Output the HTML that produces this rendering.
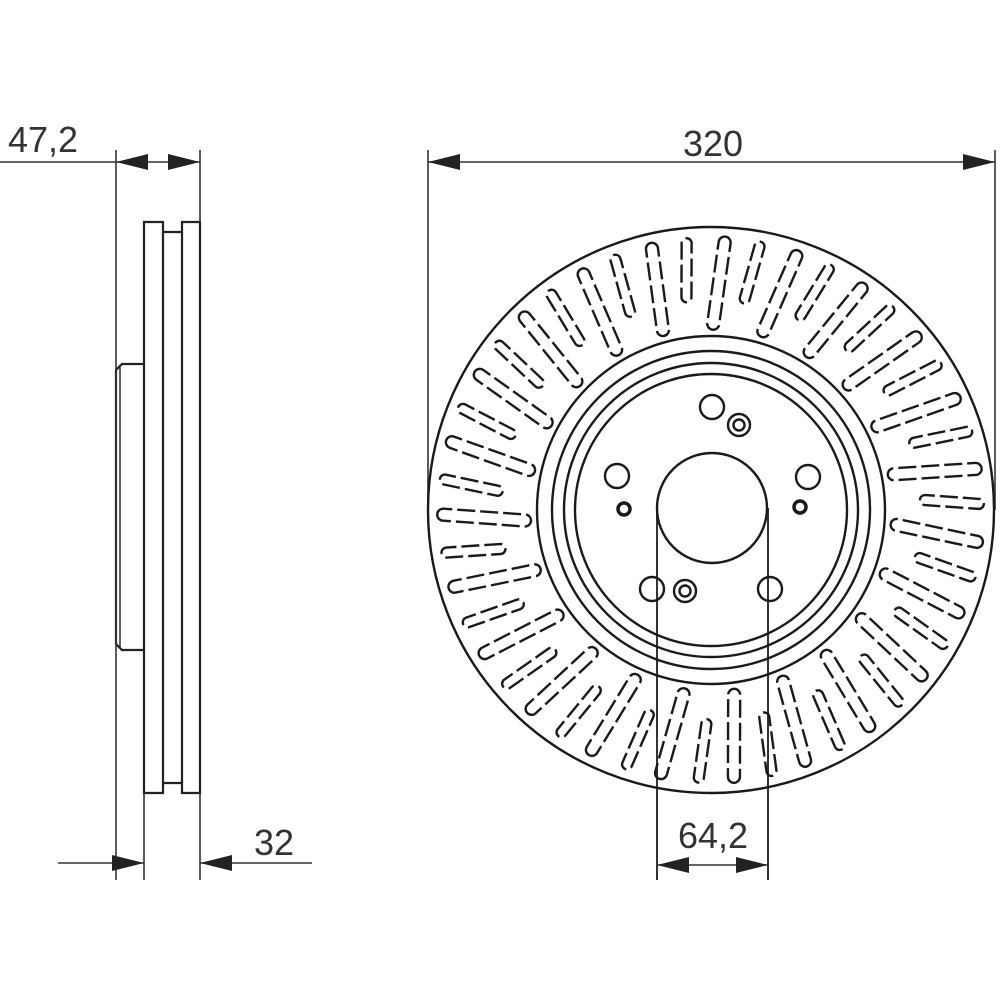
<!DOCTYPE html>
<html><head><meta charset="utf-8"><style>
html,body{margin:0;padding:0;background:#fff;}
svg{display:block;}
text{font-family:"Liberation Sans",sans-serif;fill:#333;}
</style></head><body>
<svg id="s" width="1000" height="1000" viewBox="0 0 1000 1000" xmlns="http://www.w3.org/2000/svg">
<g fill="none" stroke="#222" stroke-width="2.2">
  <!-- side view -->
  <path d="M144,793 V222 H163 V232 H182 V222 H200 V793 H182 V783 H163 V793 Z"/>
  <line x1="163" y1="232" x2="163" y2="783"/>
  <line x1="182" y1="232" x2="182" y2="783"/>
  <path d="M144,364 H122 L116,370 V644 L122,650 H144"/>
  <line x1="120" y1="367" x2="120" y2="647" stroke-width="1.4"/>
</g>
<g stroke="#333" stroke-width="1.6" fill="none">
  <line x1="116" y1="150" x2="116" y2="880"/>
  <line x1="200" y1="150" x2="200" y2="222"/>
  <line x1="0" y1="162" x2="200" y2="162"/>
  <line x1="144" y1="793" x2="144" y2="880"/>
  <line x1="200" y1="793" x2="200" y2="880"/>
  <line x1="58" y1="863" x2="144" y2="863"/>
  <line x1="200" y1="863" x2="312" y2="863"/>
  <!-- 320 -->
  <line x1="428" y1="150" x2="428" y2="510"/>
  <line x1="995" y1="150" x2="995" y2="510"/>
  <line x1="428" y1="162" x2="995" y2="162"/>
  <!-- 64,2 -->
  <line x1="657" y1="508" x2="657" y2="880" stroke-width="2"/>
  <line x1="768" y1="508" x2="768" y2="880" stroke-width="2"/>
  <line x1="657" y1="865" x2="768" y2="865"/>
</g>
<g fill="#222">
  <polygon points="116,162 148,154 148,170"/>
  <polygon points="200,162 168,154 168,170"/>
  <polygon points="144,863 112,855 112,871"/>
  <polygon points="200,863 232,855 232,871"/>
  <polygon points="428,162 460,154 460,170"/>
  <polygon points="995,162 963,154 963,170"/>
  <polygon points="657,865 689,857 689,873"/>
  <polygon points="768,865 736,857 736,873"/>
</g>
<text x="8" y="152" font-size="36">47,2</text>
<text x="254" y="855" font-size="36">32</text>
<text x="713" y="156" font-size="36" text-anchor="middle">320</text>
<text x="713" y="848" font-size="36" text-anchor="middle">64,2</text>
<!-- front view -->
<g fill="none" stroke="#1a1a1a" stroke-width="2.4">
  <circle cx="711" cy="510" r="283"/>
  <circle cx="711" cy="510" r="174"/>
  <circle cx="711" cy="510" r="159"/>
  <circle cx="711" cy="510" r="147"/>
  <circle cx="711" cy="510" r="136"/>
  <circle cx="712" cy="508" r="55"/>
  <circle cx="712" cy="407" r="12"/>
  <circle cx="617" cy="476" r="12"/>
  <circle cx="808" cy="477" r="12"/>
  <circle cx="652" cy="589" r="12"/>
  <circle cx="770" cy="589" r="12"/>
  <circle cx="739" cy="425" r="11"/><circle cx="739" cy="425" r="5.5"/>
  <circle cx="685" cy="591" r="11"/><circle cx="685" cy="591" r="5.5"/>
  <circle cx="624" cy="509" r="6" stroke-width="3.5"/>
  <circle cx="800" cy="507" r="6" stroke-width="3.5"/>
</g>
<g id="slots" fill="none" stroke="#1a1a1a" stroke-width="2.4" stroke-dasharray="18 5"></g>
</svg>
<script>
var g=document.getElementById('slots'),N=46,h='';
for(var i=0;i<N;i++){
  var a=i*360/N+2;
  if(i%2==0){
    h+='<rect x="-6" y="-274" width="12" height="94" rx="6" transform="translate(711,510) rotate('+a+') rotate(6,0,-227)"/>';
  }else{
    h+='<rect x="-5" y="-273" width="10" height="64" rx="5" transform="translate(711,510) rotate('+a+') rotate(6,0,-241)"/>';
  }
}
g.innerHTML=h;
</script>
</body></html>
